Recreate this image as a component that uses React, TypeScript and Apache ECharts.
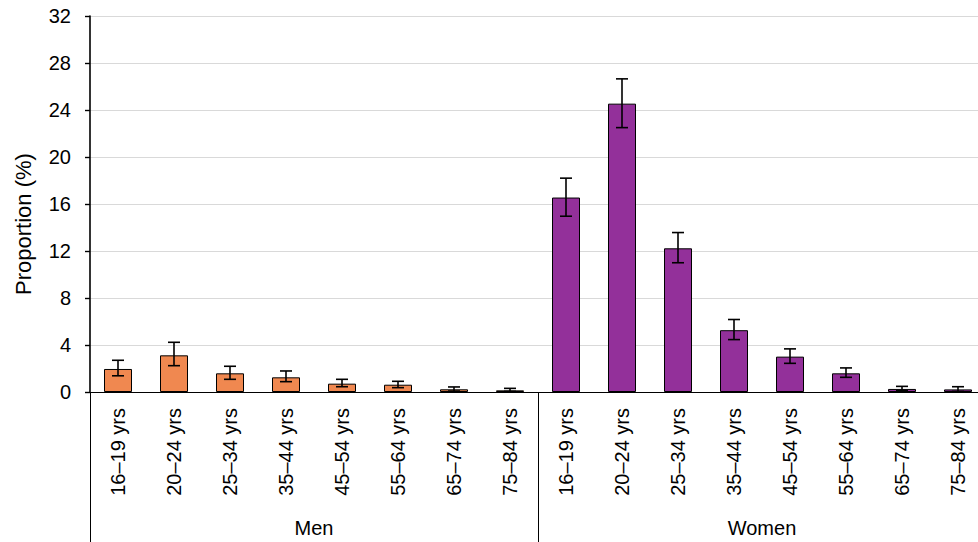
import React, { useEffect, useRef } from "react";
import * as echarts from "echarts";

const ageGroups = ["16–19 yrs", "20–24 yrs", "25–34 yrs", "35–44 yrs", "45–54 yrs", "55–64 yrs", "65–74 yrs", "75–84 yrs"];
const sexGroups = ["Men", "Women"];
const menValues = [1.96, 3.12, 1.59, 1.25, 0.71, 0.62, 0.23, 0.14];
const menLower = [1.38, 2.24, 1.08, 0.88, 0.45, 0.37, 0.08, 0.05];
const menUpper = [2.7, 4.23, 2.19, 1.79, 1.08, 0.91, 0.43, 0.31];
const womenValues = [16.55, 24.54, 12.23, 5.26, 3.01, 1.59, 0.26, 0.22];
const womenLower = [14.96, 22.5, 11.0, 4.46, 2.44, 1.25, 0.1, 0.05];
const womenUpper = [18.2, 26.65, 13.57, 6.17, 3.67, 2.05, 0.48, 0.45];
const yTicks = { min: 0, max: 32, interval: 4 };

const MEN_COLOR = "#F08850";
const WOMEN_COLOR = "#93309A";
const FONT = "Liberation Sans, Arial, sans-serif";

export default function App() {
  const ref = useRef<HTMLDivElement>(null);
  useEffect(() => {
    if (!ref.current) return;
    const chart = echarts.init(ref.current, undefined, { renderer: "svg" });
    const categories = [...ageGroups, ...ageGroups];
    const barData = [
      ...menValues.map((v) => ({ value: v, itemStyle: { color: MEN_COLOR } })),
      ...womenValues.map((v) => ({ value: v, itemStyle: { color: WOMEN_COLOR } })),
    ];
    const errData = [
      ...menValues.map((_, i) => [i, menLower[i], menUpper[i]]),
      ...womenValues.map((_, i) => [i + ageGroups.length, womenLower[i], womenUpper[i]]),
    ];
    chart.setOption({
      animation: false,
      textStyle: { fontFamily: FONT },
      grid: { left: 90, right: 14, top: 16, bottom: 150, containLabel: false },
      xAxis: [
        {
          type: "category",
          data: categories,
          axisLine: { show: true, lineStyle: { color: "#000", width: 1.2 } },
          axisTick: { show: false },
          axisLabel: { rotate: 90, interval: 0, fontSize: 20, color: "#000", margin: 16, fontFamily: FONT },
        },
        {
          type: "category",
          data: sexGroups,
          position: "bottom",
          axisLine: { show: false },
          axisTick: { show: true, length: 150, interval: 0, lineStyle: { color: "#000", width: 1 } },
          axisLabel: { interval: 0, fontSize: 20, color: "#000", margin: 126, fontFamily: FONT },
        },
      ],
      yAxis: {
        type: "value",
        min: yTicks.min,
        max: yTicks.max,
        interval: yTicks.interval,
        axisLine: { show: true, lineStyle: { color: "#000", width: 1.6 } },
        axisTick: { show: true, length: 5, lineStyle: { color: "#000", width: 1.4 } },
        axisLabel: { fontSize: 20, color: "#000", margin: 19, fontFamily: FONT },
        splitLine: { show: true, lineStyle: { color: "#d9d9d9", width: 1 } },
      },
      graphic: [
        {
          type: "text",
          x: 23,
          y: 224,
          rotation: Math.PI / 2,
          style: {
            text: "Proportion (%)",
            fontSize: 22,
            fontFamily: FONT,
            fill: "#000",
            align: "center",
            verticalAlign: "middle",
          },
        },
      ],
      series: [
        {
          type: "bar",
          xAxisIndex: 0,
          data: barData,
          barWidth: "50%",
          itemStyle: { borderColor: "#000", borderWidth: 1 },
        },
        {
          type: "custom",
          xAxisIndex: 0,
          data: errData,
          z: 10,
          renderItem: (params: any, api: any) => {
            const x = api.value(0);
            const lo = api.coord([x, api.value(1)]);
            const hi = api.coord([x, api.value(2)]);
            const half = 6;
            const style = { stroke: "#000", lineWidth: 1.6 };
            return {
              type: "group",
              children: [
                { type: "line", shape: { x1: lo[0], y1: lo[1], x2: hi[0], y2: hi[1] }, style },
                { type: "line", shape: { x1: hi[0] - half, y1: hi[1], x2: hi[0] + half, y2: hi[1] }, style },
                { type: "line", shape: { x1: lo[0] - half, y1: lo[1], x2: lo[0] + half, y2: lo[1] }, style },
              ],
            };
          },
        },
      ],
    });
    return () => chart.dispose();
  }, []);
  return (
    <div style={{ position: "fixed", left: 0, top: 0, width: 978, height: 542, overflow: "hidden", background: "#fff" }}>
      <div ref={ref} style={{ width: 1000, height: 542 }} />
    </div>
  );
}
